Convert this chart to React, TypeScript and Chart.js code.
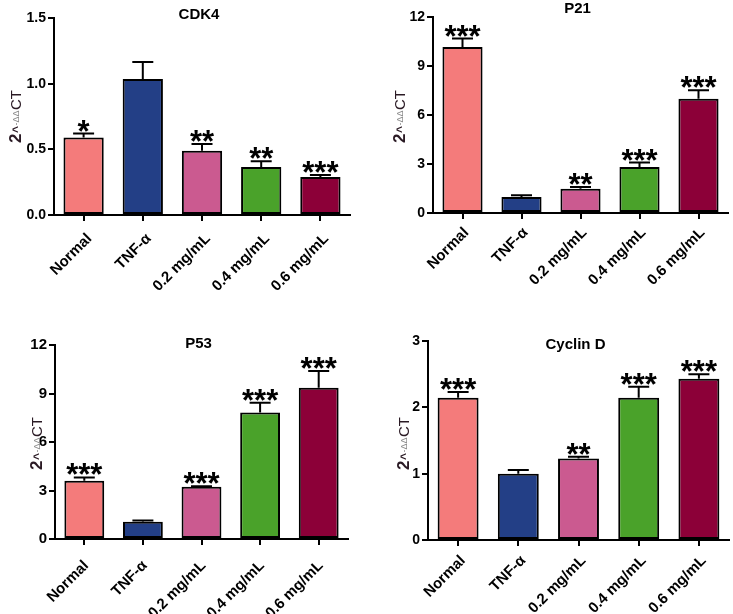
import React, { useEffect, useRef } from "react";
import { Chart, registerables } from "chart.js";

Chart.register(...registerables);

// ---------- data ----------
const categories = ["Normal", "TNF-α", "0.2 mg/mL", "0.4 mg/mL", "0.6 mg/mL"];
const barColors = ["#F47B7B", "#233F86", "#CB5A90", "#4AA22A", "#8C0038"];

const cdk4Values = [0.59, 1.035, 0.49, 0.365, 0.29];
const cdk4Errors = [0.03, 0.13, 0.05, 0.045, 0.015];
const cdk4Stars = ["*", "", "**", "**", "***"];

const p21Values = [10.16, 0.98, 1.49, 2.82, 7.0];
const p21Errors = [0.52, 0.1, 0.1, 0.27, 0.51];
const p21Stars = ["***", "", "**", "***", "***"];

const p53Values = [3.6, 1.06, 3.23, 7.83, 9.36];
const p53Errors = [0.21, 0.08, 0.03, 0.6, 1.03];
const p53Stars = ["***", "", "***", "***", "***"];

const cyclinValues = [2.145, 1.0, 1.23, 2.145, 2.43];
const cyclinErrors = [0.085, 0.055, 0.026, 0.165, 0.07];
const cyclinStars = ["***", "", "**", "***", "***"];

const panelTitles = ["CDK4", "P21", "P53", "Cyclin D"];
const axisMax = [1.5, 12, 12, 3];
const axisStep = [0.5, 3, 3, 1];
const axisDecimals = [1, 0, 0, 0];

// ---------- layout ----------
const FONT = "Arial, 'Liberation Sans', Helvetica, sans-serif";
const layouts = [
  { left: 0, top: 0, width: 366, height: 307, axisWidth: 54, padTop: 18, padRight: 16, xHeight: 92, labelBase: 33, labelBottom: 143, titleY: 15, lblOff: 6, lblPad: 9, tickFont: 14 },
  { left: 366, top: 0, width: 367, height: 307, axisWidth: 67, padTop: 17, padRight: 5, xHeight: 94, labelBase: 28, labelBottom: 143, titleY: 9, lblOff: 4, lblPad: 5, tickFont: 14 },
  { left: 0, top: 307, width: 366, height: 307, axisWidth: 55, padTop: 38, padRight: 18, xHeight: 75, labelBase: 13, labelBottom: 163, titleY: 37, lblOff: 2, lblPad: 12, tickFont: 15 },
  { left: 366, top: 307, width: 367, height: 307, axisWidth: 62, padTop: 34, padRight: 4, xHeight: 74, labelBase: 19, labelBottom: 163, titleY: 38, lblOff: 5, lblPad: 6, tickFont: 14 },
];

const panelData = [
  { values: cdk4Values, errors: cdk4Errors, stars: cdk4Stars },
  { values: p21Values, errors: p21Errors, stars: p21Stars },
  { values: p53Values, errors: p53Errors, stars: p53Stars },
  { values: cyclinValues, errors: cyclinErrors, stars: cyclinStars },
];

function Panel({ index }: { index: number }) {
  const ref = useRef<HTMLCanvasElement | null>(null);
  const lay = layouts[index];
  useEffect(() => {
    const canvas = ref.current;
    if (!canvas) return;
    const { values, errors, stars } = panelData[index];
    const title = panelTitles[index];

    const overlay = {
      id: "overlay" + index,
      afterDatasetsDraw(chart: any) {
        const ctx = chart.ctx;
        const meta = chart.getDatasetMeta(0);
        const yScale = chart.scales.y;
        ctx.save();
        meta.data.forEach((bar: any, i: number) => {
          const x = bar.x;
          const yTop = yScale.getPixelForValue(values[i]);
          const yErr = yScale.getPixelForValue(values[i] + errors[i]);
          ctx.strokeStyle = "#000";
          ctx.lineWidth = 2;
          ctx.beginPath();
          ctx.moveTo(x, yTop);
          ctx.lineTo(x, yErr);
          ctx.moveTo(x - 10.5, yErr);
          ctx.lineTo(x + 10.5, yErr);
          ctx.stroke();
          if (stars[i]) {
            ctx.font = `bold 31px ${FONT}`;
            ctx.fillStyle = "#000";
            ctx.textAlign = "center";
            ctx.textBaseline = "alphabetic";
            const m = ctx.measureText(stars[i]);
            const desc = m.actualBoundingBoxDescent || -10;
            ctx.fillText(stars[i], x, yErr - 2 - desc);
          }
        });
        ctx.restore();
      },
      afterDraw(chart: any) {
        const ctx = chart.ctx;
        const area = chart.chartArea;
        ctx.save();
        // title
        ctx.font = `bold 15px ${FONT}`;
        ctx.fillStyle = "#000";
        ctx.textAlign = "center";
        ctx.textBaseline = "middle";
        ctx.fillText(title, (area.left + area.right) / 2 - 3, lay.titleY);
        // y-axis title 2^-ΔΔCT
        const baseX = area.left - lay.labelBase;
        ctx.translate(baseX, lay.labelBottom);
        ctx.rotate(-Math.PI / 2);
        ctx.textAlign = "left";
        ctx.textBaseline = "alphabetic";
        const parts = [
          { t: "2", f: `bold 17px ${FONT}`, c: "#2a1a24", dy: 0 },
          { t: "^", f: `bold 12px ${FONT}`, c: "#2a1a24", dy: 0 },
          { t: "-ΔΔ", f: `9px ${FONT}`, c: "#8a8a8a", dy: -2 },
          { t: "CT", f: `15px ${FONT}`, c: "#2a1a24", dy: 0 },
        ];
        let cx = 0;
        parts.forEach((p) => {
          ctx.font = p.f;
          ctx.fillStyle = p.c;
          ctx.fillText(p.t, cx, p.dy);
          cx += ctx.measureText(p.t).width + 0.5;
        });
        ctx.restore();
      },
    };

    const chart = new Chart(canvas, {
      type: "bar",
      data: {
        labels: categories,
        datasets: [
          {
            data: values,
            backgroundColor: barColors,
            borderColor: "#000",
            borderWidth: 2,
            borderSkipped: false,
            barPercentage: 0.68,
            categoryPercentage: 1,
          },
        ],
      },
      options: {
        animation: false,
        responsive: false,
        devicePixelRatio: 1,
        layout: { padding: { top: lay.padTop, right: lay.padRight, left: 0, bottom: 0 } },
        plugins: { legend: { display: false }, tooltip: { enabled: false }, title: { display: false } },
        scales: {
          x: {
            afterFit: (s: any) => {
              s.height = lay.xHeight;
              s.paddingRight = 0;
              s.paddingLeft = 0;
            },
            grid: { offset: false, drawOnChartArea: false, drawTicks: true, tickLength: 6, color: "#000", lineWidth: 2 },
            border: { display: true, color: "#000", width: 2 },
            ticks: {
              autoSkip: false,
              maxRotation: 45,
              minRotation: 45,
              labelOffset: lay.lblOff,
              padding: lay.lblPad,
              color: "#000",
              font: { family: FONT, size: 15, weight: "bold" },
            },
          },
          y: {
            min: 0,
            max: axisMax[index],
            afterFit: (s: any) => {
              s.width = lay.axisWidth;
            },
            grid: { drawOnChartArea: false, drawTicks: true, tickLength: 6, color: "#000", lineWidth: 2 },
            border: { display: true, color: "#000", width: 2 },
            ticks: {
              stepSize: axisStep[index],
              padding: 2,
              color: "#000",
              font: { family: FONT, size: lay.tickFont, weight: "bold" },
              callback: (v: any) => Number(v).toFixed(axisDecimals[index]),
            },
          },
        },
      } as any,
      plugins: [overlay],
    });
    return () => chart.destroy();
  }, [index]);

  return (
    <canvas
      ref={ref}
      width={lay.width}
      height={lay.height}
      style={{ position: "absolute", left: lay.left, top: lay.top, width: lay.width, height: lay.height }}
    />
  );
}

export default function App() {
  return (
    <div style={{ position: "absolute", left: 0, top: 0, width: 733, height: 614, background: "#fff", overflow: "hidden" }}>
      {[0, 1, 2, 3].map((i) => (
        <Panel key={i} index={i} />
      ))}
    </div>
  );
}
